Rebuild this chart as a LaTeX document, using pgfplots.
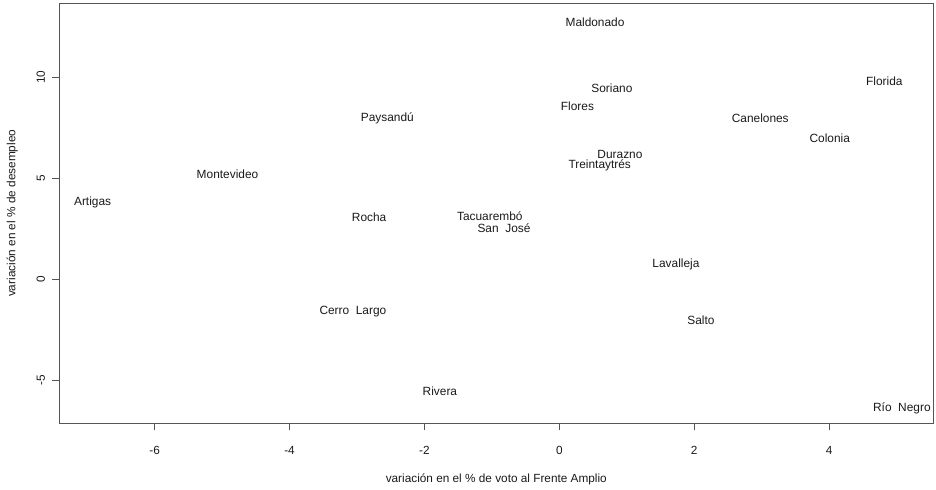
\documentclass[border=0pt]{standalone}
\usepackage{fontspec}
\setmainfont{Liberation Sans}
\usepackage{pgfplots}
\usepackage{pgfplotstable}
\pgfplotsset{compat=1.18}
\definecolor{axgray}{HTML}{555555}
\definecolor{txt}{HTML}{1A1A1A}
\pgfplotstableread[col sep=comma]{
x,y,label
-6.92,3.79,Artigas
-4.92,5.22,Montevideo
-2.55,7.97,Paysandú
-2.82,3.09,Rocha
-1.03,3.13,Tacuarembó
-0.82,2.55,San\ \ José
0.53,12.72,Maldonado
0.78,9.47,Soriano
0.27,8.57,Flores
0.90,6.20,Durazno
0.60,5.62,Treintaytrés
2.98,7.97,Canelones
4.01,7.00,Colonia
4.82,9.78,Florida
1.73,0.75,Lavalleja
2.10,-2.03,Salto
5.08,-6.39,Río\ \ Negro
-3.06,-1.61,Cerro\ \ Largo
-1.77,-5.53,Rivera
}\datatable
\begin{document}
\begin{tikzpicture}
\begin{axis}[
  scale only axis,
  width=874bp, height=420bp,
  xmin=-7.414, xmax=5.546,
  ymin=-7.13, ymax=13.66,
  axis line style={axgray, line width=0.9bp},
  tick style={axgray, line width=0.9bp},
  tick align=outside,
  major tick length=7bp,
  xtick pos=bottom, ytick pos=left,
  xtick={-6,-4,-2,0,2,4},
  xticklabels={-6,-4,-2,0,2,4},
  ytick={-5,0,5,10},
  yticklabels={-5,0,5,10},
  font=\fontsize{11.8bp}{13bp}\selectfont,
  xticklabel style={txt, anchor=center, yshift=-20bp},
  yticklabel style={txt, rotate=90, anchor=center, yshift=11.5bp},
  xlabel={variación en el \% de voto al Frente Amplio},
  ylabel={variación en el \% de desempleo},
  xlabel style={txt, at={(axis description cs:0.5,0)}, anchor=center, yshift=-56bp},
  ylabel style={txt, at={(axis description cs:0,0.5)}, anchor=center, rotate=0, yshift=47bp},
  clip=false,
]
\addplot[only marks, mark=none, nodes near coords, point meta=explicit symbolic,
  nodes near coords style={anchor=center, txt, font=\fontsize{11.9bp}{13bp}\selectfont}]
  table[x=x, y=y, meta=label] {\datatable};
\end{axis}
\pgfresetboundingbox
\useasboundingbox (-59.3bp,-66.7bp) rectangle (876.7bp,423.3bp);
\end{tikzpicture}
\end{document}
